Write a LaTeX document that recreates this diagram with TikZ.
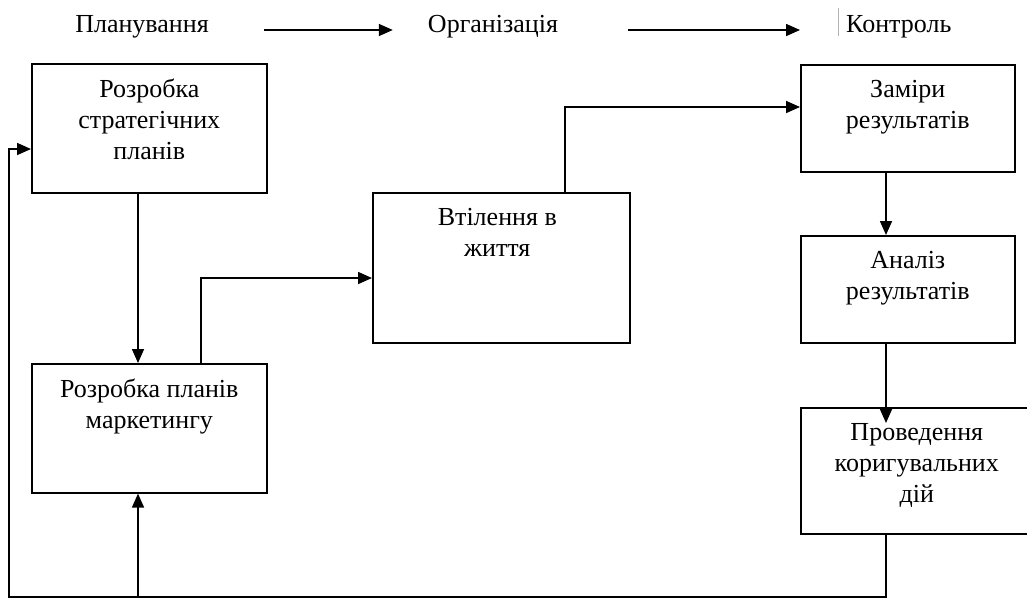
\documentclass[tikz,border=0pt]{standalone}
\usepackage{fontspec}
\setmainfont{Liberation Serif}
\usetikzlibrary{arrows.meta,calc}

\begin{document}
\begin{tikzpicture}[x=1pt,y=-1pt,
    blk/.style={draw, line width=1.6pt, anchor=north west, inner sep=0pt},
    txt/.style={font=\fontsize{26}{31}\selectfont, align=center, inner sep=0pt, anchor=north},
    arr/.style={-{Triangle[length=14pt,width=12pt]}, line width=1.6pt}]
    \clip (0,0) rectangle (1027,598);

    % stages
    \node[txt,anchor=base] (hplan) at (142,32) {Планування};
    \node[txt,anchor=base] (horg) at (493,32) {Організація};
    \node[txt,anchor=base west] (hkontr) at (846,32) {Контроль};
    \draw[arr] ($(hplan.east |- 0,30)+(55,0)$) -- ($(horg.west |- 0,30)+(-35,0)$);
    \draw[arr] ($(horg.east |- 0,30)+(70,0)$) -- ($(hkontr.west |- 0,30)+(-46,0)$);
    \draw[gray!60, line width=0.6pt] (838,8) -- (838,36);

    % boxes
    \node[blk, minimum width=235pt, minimum height=129pt] (strat) at (31,63) {};
    \node[blk, minimum width=235pt, minimum height=129pt] (mkt) at (31,363) {};
    \node[blk, minimum width=257pt, minimum height=150pt] (vtil) at (372,192) {};
    \node[blk, minimum width=214pt, minimum height=107pt] (zamir) at (800,64) {};
    \node[blk, minimum width=214pt, minimum height=107pt] (analiz) at (800,235) {};
    \node[blk, minimum width=232pt, minimum height=126pt] (korekt) at (800,407) {};

    \node[txt] (strattxt) at ($(strat.north)+(0,16)$) {Розробка\\стратегічних\\планів};
    \node[txt] (mkttxt) at ($(mkt.north)+(0,16)$) {Розробка планів\\маркетингу};
    \node[txt] (viltxt) at ($(vtil.north)+(-4,16)$) {Втілення в\hspace{18pt}\\життя};
    \node[txt] (zamirtxt) at ($(zamir.north)+(0,16)$) {Заміри\\результатів};
    \node[txt] (analiztxt) at ($(analiz.north)+(0,16)$) {Аналіз\\результатів};
    \node[txt] (korekttxt) at ($(korekt.north)+(0,16)$) {Проведення\\коригувальних\\дій};

    % connectors
    \coordinate (xa) at (138,0);
    \coordinate (xb) at (201,0);
    \coordinate (xc) at (565,0);
    \coordinate (xd) at (886,0);
    \coordinate (rail) at (9,597);
    \draw[arr] (strat.south -| xa) -- (mkt.north -| xa);
    \draw[arr] (mkt.north -| xb) |- (vtil.west |- 0,278);
    \draw[arr] (vtil.north -| xc) |- (zamir.west |- 0,107);
    \draw[arr] (zamir.south -| xd) -- (analiz.north -| xd);
    \draw[arr] (analiz.south -| xd) -- ($(korekt.north -| xd)+(0,16)$);
    \draw[arr] (korekt.south -| xd) |- (rail) |- (strat.west |- 0,149);
    \draw[arr] (xa |- rail) -- (mkt.south -| xa);
\end{tikzpicture}
\end{document}
